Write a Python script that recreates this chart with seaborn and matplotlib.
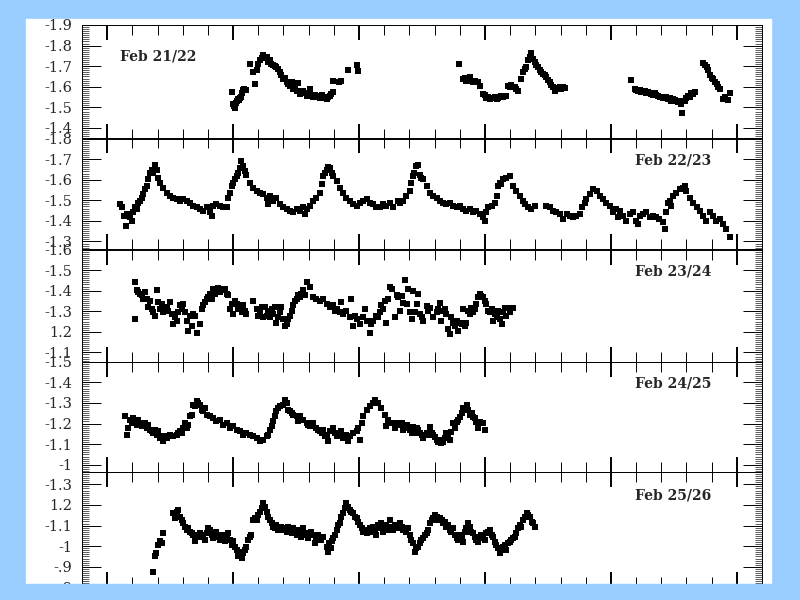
import pandas as pd
import seaborn as sns
import matplotlib.pyplot as plt
import matplotlib.ticker as ticker
from matplotlib.patches import Rectangle

# (hour, magnitude) pairs
feb21 = [(5.97,-1.575),(5.98,-1.515),(6.02,-1.505),(6.06,-1.495),(6.1,-1.52),(6.14,-1.53),(6.18,-1.54),(6.22,-1.535),(6.27,-1.545),(6.32,-1.55),(6.36,-1.57),(6.4,-1.585),(6.45,-1.59),(6.5,-1.585),(6.67,-1.71),(6.8,-1.67),(6.87,-1.615),(6.93,-1.683),(7.0,-1.712),(7.06,-1.728),(7.13,-1.74),(7.2,-1.753),(7.26,-1.745),(7.33,-1.745),(7.39,-1.72),(7.46,-1.728),(7.52,-1.71),(7.59,-1.704),(7.65,-1.7),(7.72,-1.696),(7.79,-1.685),(7.86,-1.67),(7.92,-1.655),(7.99,-1.64),(8.05,-1.645),(8.12,-1.622),(8.18,-1.615),(8.25,-1.606),(8.32,-1.622),(8.39,-1.59),(8.45,-1.6),(8.52,-1.58),(8.58,-1.62),(8.65,-1.565),(8.72,-1.575),(8.78,-1.58),(8.85,-1.57),(8.92,-1.557),(8.98,-1.565),(9.05,-1.59),(9.12,-1.56),(9.18,-1.549),(9.25,-1.56),(9.31,-1.557),(9.38,-1.55),(9.44,-1.545),(9.51,-1.56),(9.58,-1.552),(9.64,-1.548),(9.71,-1.54),(9.78,-1.55),(9.84,-1.557),(9.9,-1.565),(9.97,-1.573),(9.97,-1.627),(10.22,-1.625),(10.3,-1.627),(10.57,-1.68),(10.9,-1.704),(10.97,-1.676),
         (14.97,-1.709),(15.13,-1.639),(15.2,-1.645),(15.26,-1.63),(15.33,-1.64),(15.4,-1.647),(15.46,-1.63),(15.53,-1.622),(15.6,-1.63),(15.73,-1.622),(15.8,-1.606),(15.93,-1.565),(16.0,-1.56),(16.06,-1.545),(16.12,-1.55),(16.19,-1.54),(16.26,-1.548),(16.33,-1.545),(16.4,-1.55),(16.46,-1.54),(16.52,-1.548),(16.59,-1.549),(16.65,-1.555),(16.72,-1.552),(16.85,-1.557),(16.92,-1.606),(16.98,-1.6),(17.05,-1.61),(17.12,-1.6),(17.18,-1.598),(17.25,-1.59),(17.32,-1.58),(17.45,-1.64),(17.51,-1.67),(17.57,-1.685),(17.62,-1.696),(17.71,-1.728),(17.78,-1.745),(17.84,-1.764),(17.9,-1.737),(17.97,-1.72),(18.03,-1.704),(18.1,-1.695),(18.17,-1.68),(18.24,-1.67),(18.3,-1.663),(18.37,-1.655),(18.43,-1.647),(18.5,-1.635),(18.57,-1.622),(18.63,-1.61),(18.7,-1.598),(18.77,-1.58),(18.84,-1.59),(18.9,-1.594),(18.97,-1.6),(19.03,-1.59),(19.1,-1.598),(19.17,-1.594),
         (21.81,-1.634),(21.94,-1.59),(22.01,-1.585),(22.08,-1.58),(22.14,-1.585),(22.21,-1.573),(22.28,-1.578),(22.34,-1.58),(22.41,-1.57),(22.48,-1.573),(22.55,-1.568),(22.61,-1.565),(22.68,-1.56),(22.74,-1.569),(22.81,-1.56),(22.87,-1.557),(22.94,-1.55),(23.0,-1.552),(23.07,-1.548),(23.14,-1.545),(23.2,-1.55),(23.27,-1.54),(23.34,-1.545),(23.4,-1.532),(23.47,-1.54),(23.53,-1.536),(23.6,-1.53),(23.66,-1.524),(23.73,-1.53),(23.8,-1.516),(23.84,-1.475),(23.93,-1.532),(24.0,-1.545),(24.06,-1.557),(24.13,-1.55),(24.19,-1.569),(24.26,-1.565),(24.33,-1.576),
         (24.66,-1.715),(24.72,-1.705),(24.8,-1.696),(24.86,-1.68),(24.93,-1.655),(25.0,-1.645),(25.06,-1.639),(25.13,-1.625),(25.2,-1.614),(25.26,-1.6),(25.32,-1.59),(25.45,-1.54),(25.52,-1.55),(25.65,-1.536),(25.71,-1.568)]

feb22 = [(1.51,-1.481),(1.57,-1.465),(1.67,-1.425),(1.75,-1.377),(1.8,-1.433),(1.9,-1.417),(1.97,-1.4),(2.04,-1.441),(2.1,-1.465),(2.17,-1.457),(2.24,-1.489),(2.3,-1.497),(2.37,-1.513),(2.43,-1.529),(2.5,-1.553),(2.57,-1.569),(2.63,-1.601),(2.7,-1.633),(2.76,-1.649),(2.83,-1.633),(2.9,-1.673),(2.96,-1.649),
         (3.03,-1.61),(3.1,-1.585),(3.23,-1.561),(3.36,-1.537),(3.49,-1.521),(3.62,-1.513),(3.76,-1.505),(3.89,-1.497),(4.02,-1.505),(4.15,-1.497),(4.29,-1.489),(4.42,-1.473),(4.55,-1.465),(4.68,-1.457),(4.81,-1.449),(4.95,-1.465),(5.08,-1.441),(5.15,-1.425),(5.21,-1.473),(5.34,-1.481),(5.48,-1.473),(5.61,-1.465),(5.74,-1.465),
         (5.81,-1.513),(5.87,-1.537),(5.94,-1.569),(6.0,-1.585),(6.07,-1.601),(6.14,-1.617),(6.2,-1.633),(6.27,-1.657),(6.33,-1.689),(6.4,-1.665),(6.47,-1.641),(6.53,-1.625),(6.67,-1.585),(6.8,-1.561),(6.93,-1.545),(7.06,-1.537),(7.2,-1.529),(7.33,-1.513),(7.39,-1.481),(7.46,-1.521),(7.59,-1.497),(7.72,-1.513),(7.86,-1.481),(7.99,-1.465),(8.12,-1.457),(8.25,-1.449),(8.39,-1.441),(8.52,-1.457),(8.65,-1.449),(8.78,-1.465),(8.85,-1.433),(8.92,-1.457),(9.05,-1.473),(9.18,-1.497),(9.31,-1.513),(9.44,-1.537),(9.51,-1.577),(9.58,-1.617),(9.64,-1.633),(9.71,-1.649),(9.78,-1.662),(9.84,-1.657),
         (9.91,-1.633),(9.97,-1.617),(10.11,-1.593),(10.24,-1.561),(10.37,-1.537),(10.5,-1.513),(10.63,-1.497),(10.77,-1.481),(10.9,-1.473),(11.03,-1.489),(11.16,-1.497),(11.3,-1.505),(11.43,-1.489),(11.56,-1.481),(11.69,-1.465),(11.83,-1.465),(11.96,-1.481),(12.09,-1.473),(12.22,-1.489),(12.35,-1.465),(12.55,-1.497),
         (12.62,-1.489),(12.75,-1.497),(12.88,-1.521),(13.01,-1.545),(13.07,-1.585),(13.14,-1.617),(13.2,-1.633),(13.28,-1.665),(13.35,-1.673),(13.41,-1.625),(13.48,-1.609),(13.55,-1.601),(13.68,-1.569),(13.81,-1.537),(13.94,-1.521),(14.08,-1.513),(14.21,-1.497),(14.34,-1.489),(14.47,-1.481),(14.6,-1.489),(14.74,-1.473),(14.87,-1.465),(15.0,-1.473),(15.13,-1.457),(15.26,-1.449),(15.4,-1.457),(15.53,-1.441),(15.66,-1.449),(15.79,-1.433),(15.93,-1.417),(16.0,-1.401),(16.06,-1.441),(16.13,-1.465),(16.26,-1.473),(16.39,-1.489),(16.46,-1.521),(16.52,-1.569),(16.59,-1.585),(16.65,-1.577),(16.72,-1.601),(16.85,-1.609),(16.99,-1.617),(17.12,-1.569),(17.25,-1.545),(17.38,-1.521),(17.51,-1.497),(17.58,-1.481),(17.71,-1.465),(17.84,-1.457),(17.98,-1.473),
         (18.44,-1.473),(18.57,-1.465),(18.7,-1.449),(18.84,-1.441),(18.97,-1.433),(19.1,-1.409),(19.24,-1.433),(19.37,-1.425),(19.5,-1.417),(19.63,-1.425),(19.76,-1.433),(19.87,-1.465),(19.96,-1.489),(20.03,-1.505),(20.16,-1.529),(20.29,-1.553),(20.43,-1.545),(20.56,-1.521),(20.69,-1.505),(20.82,-1.489),(20.95,-1.473),(21.09,-1.441),(21.22,-1.457),(21.28,-1.417),(21.35,-1.449),(21.48,-1.425),(21.61,-1.401),(21.75,-1.433),(21.88,-1.441),(22.01,-1.401),(22.07,-1.385),(22.14,-1.425),(22.27,-1.433),(22.41,-1.441),(22.54,-1.417),(22.67,-1.425),(22.8,-1.417),(22.93,-1.409),(23.07,-1.393),(23.14,-1.361),(23.2,-1.441),(23.27,-1.489),(23.33,-1.497),(23.4,-1.473),(23.46,-1.521),(23.6,-1.537),(23.73,-1.553),(23.86,-1.561),(23.93,-1.569),(24.0,-1.545),(24.13,-1.513),(24.26,-1.489),(24.4,-1.465),(24.52,-1.449),(24.66,-1.425),(24.79,-1.401),(24.92,-1.441),(25.05,-1.425),(25.19,-1.401),(25.32,-1.409),(25.45,-1.385),(25.58,-1.361),(25.71,-1.321)]

feb23 = [(2.1,-1.262),(2.1,-1.44),(2.17,-1.402),(2.24,-1.394),(2.3,-1.385),(2.37,-1.377),(2.43,-1.361),(2.5,-1.394),(2.57,-1.361),(2.63,-1.32),(2.7,-1.352),(2.77,-1.311),(2.83,-1.295),(2.9,-1.278),(2.96,-1.402),(3.03,-1.344),(3.1,-1.311),(3.16,-1.336),(3.23,-1.295),(3.29,-1.311),(3.36,-1.319),(3.42,-1.303),(3.49,-1.344),(3.56,-1.286),(3.62,-1.237),(3.69,-1.27),(3.76,-1.253),(3.82,-1.295),(3.89,-1.328),(3.96,-1.311),(4.02,-1.336),(4.09,-1.295),(4.15,-1.253),(4.22,-1.204),(4.29,-1.278),(4.35,-1.229),(4.42,-1.286),(4.48,-1.278),(4.55,-1.196),(4.68,-1.237),(4.75,-1.311),(4.81,-1.328),(4.88,-1.344),(4.95,-1.361),(5.01,-1.369),(5.08,-1.385),(5.15,-1.361),(5.21,-1.41),(5.28,-1.385),(5.34,-1.402),(5.41,-1.414),(5.48,-1.394),(5.54,-1.41),(5.61,-1.402),(5.67,-1.41),(5.74,-1.385),(5.81,-1.377),(5.87,-1.311),(5.94,-1.336),(6.01,-1.286),(6.07,-1.352),(6.14,-1.336),(6.2,-1.311),(6.27,-1.319),(6.34,-1.295),(6.4,-1.328),(6.47,-1.303),(6.53,-1.286),
         (6.8,-1.352),(6.93,-1.311),(7.0,-1.278),(7.06,-1.295),(7.13,-1.319),(7.2,-1.27),(7.26,-1.319),(7.33,-1.278),(7.39,-1.303),(7.46,-1.27),(7.53,-1.311),(7.59,-1.286),(7.66,-1.319),(7.72,-1.245),(7.79,-1.27),(7.86,-1.295),(7.92,-1.319),(7.99,-1.262),(8.05,-1.229),(8.12,-1.237),(8.19,-1.262),(8.25,-1.278),(8.32,-1.303),(8.39,-1.328),(8.45,-1.352),(8.52,-1.361),(8.58,-1.377),(8.65,-1.369),(8.71,-1.385),(8.78,-1.402),(8.85,-1.377),(8.92,-1.443),(9.05,-1.418),(9.18,-1.369),(9.31,-1.361),(9.44,-1.352),(9.58,-1.361),(9.71,-1.336),(9.84,-1.319),(9.97,-1.328),(10.04,-1.303),(10.11,-1.311),(10.24,-1.295),(10.3,-1.344),(10.37,-1.286),(10.5,-1.303),(10.63,-1.27),(10.7,-1.361),(10.77,-1.229),(10.83,-1.278),(10.9,-1.262),(11.03,-1.237),(11.16,-1.27),(11.23,-1.311),(11.3,-1.253),(11.43,-1.196),(11.49,-1.237),(11.56,-1.253),(11.69,-1.278),(11.75,-1.27),(11.83,-1.295),(11.89,-1.328),(11.96,-1.311),(12.02,-1.352),(12.09,-1.245),(12.16,-1.361),(12.22,-1.418),(12.29,-1.41),(12.42,-1.27),(12.49,-1.377),
         (12.56,-1.367),(12.62,-1.302),(12.69,-1.375),(12.76,-1.342),(12.82,-1.45),(12.89,-1.334),(12.95,-1.407),(13.02,-1.294),(13.09,-1.261),(13.15,-1.399),(13.22,-1.294),(13.29,-1.334),(13.35,-1.383),(13.42,-1.286),(13.49,-1.27),(13.55,-1.253),(13.68,-1.326),(13.75,-1.302),(13.81,-1.318),(13.94,-1.27),(14.08,-1.294),(14.14,-1.31),(14.21,-1.342),(14.27,-1.253),(14.34,-1.302),(14.41,-1.31),(14.47,-1.286),(14.54,-1.213),(14.6,-1.189),(14.67,-1.27),(14.74,-1.245),(14.8,-1.229),(14.87,-1.253),(14.93,-1.205),(15.0,-1.245),(15.07,-1.237),(15.13,-1.31),(15.2,-1.229),(15.26,-1.245),(15.33,-1.302),(15.4,-1.286),(15.46,-1.318),(15.53,-1.294),(15.59,-1.31),(15.66,-1.334),(15.73,-1.367),(15.79,-1.383),(15.86,-1.375),(15.93,-1.367),(16.0,-1.35),(16.06,-1.334),(16.13,-1.302),(16.2,-1.294),(16.26,-1.31),(16.33,-1.253),(16.39,-1.286),(16.46,-1.27),(16.53,-1.302),(16.59,-1.261),(16.66,-1.237),(16.72,-1.294),(16.79,-1.318),(16.85,-1.278),(16.92,-1.318),(16.98,-1.294),(17.12,-1.318)]

feb24 = [(1.71,-1.235),(1.77,-1.146),(1.84,-1.178),(1.9,-1.219),(1.97,-1.203),(2.04,-1.227),(2.1,-1.211),(2.17,-1.195),(2.24,-1.219),(2.3,-1.203),(2.37,-1.186),(2.43,-1.195),(2.5,-1.203),(2.57,-1.178),(2.63,-1.195),(2.7,-1.17),(2.77,-1.162),(2.83,-1.154),(2.9,-1.17),(2.96,-1.146),(3.03,-1.162),(3.1,-1.13),(3.16,-1.138),(3.23,-1.113),(3.29,-1.138),(3.36,-1.13),(3.43,-1.138),(3.49,-1.146),(3.62,-1.138),(3.76,-1.146),(3.82,-1.154),(3.89,-1.162),(3.96,-1.154),(4.02,-1.178),(4.09,-1.203),(4.15,-1.178),(4.22,-1.195),(4.29,-1.235),(4.35,-1.243),(4.42,-1.292),(4.48,-1.284),(4.55,-1.308),(4.61,-1.3),(4.68,-1.292),(4.75,-1.268),(4.81,-1.259),(4.88,-1.276),(4.95,-1.243),(5.08,-1.235),(5.21,-1.227),(5.34,-1.211),(5.48,-1.219),(5.61,-1.195),(5.74,-1.203),(5.87,-1.178),(6.01,-1.186),(6.14,-1.17),(6.27,-1.162),(6.4,-1.146),(6.53,-1.154),(6.67,-1.146),(6.8,-1.138),(6.93,-1.13),(7.06,-1.113),(7.2,-1.122),(7.33,-1.138),(7.39,-1.146),(7.46,-1.17),(7.53,-1.186),(7.59,-1.211),(7.66,-1.235),(7.72,-1.259),(7.79,-1.276),(7.86,-1.284),(7.99,-1.292),(8.05,-1.316),(8.12,-1.3),(8.19,-1.268),(8.25,-1.259),(8.32,-1.251),(8.39,-1.243),(8.52,-1.235),(8.58,-1.211),(8.65,-1.235),(8.78,-1.219),(8.92,-1.203),(8.98,-1.195),(9.05,-1.186),(9.18,-1.203),(9.31,-1.178),(9.37,-1.17),(9.44,-1.162),(9.51,-1.154),(9.58,-1.17),(9.64,-1.138),(9.71,-1.146),(9.78,-1.113),(9.84,-1.162),(9.97,-1.178),(10.04,-1.154),(10.11,-1.138),(10.24,-1.146),(10.3,-1.162),(10.37,-1.13),(10.5,-1.146),(10.57,-1.113),(10.63,-1.138),(10.77,-1.154),(10.9,-1.162),(10.97,-1.178),(11.03,-1.122),(11.1,-1.203),(11.16,-1.235),(11.3,-1.268),(11.43,-1.284),(11.56,-1.3),(11.63,-1.316),(11.76,-1.3),(11.89,-1.276),(12.02,-1.243),(12.09,-1.186),(12.16,-1.219),(12.29,-1.203),(12.42,-1.178),(12.55,-1.203),
         (12.62,-1.193),(12.69,-1.201),(12.76,-1.168),(12.82,-1.177),(12.89,-1.193),(12.95,-1.177),(13.02,-1.168),(13.09,-1.152),(13.15,-1.185),(13.22,-1.152),(13.29,-1.177),(13.36,-1.168),(13.42,-1.152),(13.49,-1.144),(13.55,-1.128),(13.62,-1.144),(13.69,-1.152),(13.75,-1.144),(13.82,-1.185),(13.88,-1.152),(13.95,-1.144),(14.01,-1.136),(14.08,-1.12),(14.14,-1.112),(14.21,-1.12),(14.27,-1.104),(14.34,-1.112),(14.41,-1.128),(14.47,-1.152),(14.54,-1.128),(14.6,-1.12),(14.67,-1.16),(14.74,-1.201),(14.8,-1.177),(14.87,-1.209),(14.93,-1.217),(15.0,-1.233),(15.07,-1.25),(15.13,-1.274),(15.2,-1.266),(15.27,-1.29),(15.33,-1.266),(15.4,-1.241),(15.47,-1.25),(15.53,-1.233),(15.6,-1.225),(15.66,-1.209),(15.73,-1.177),(15.79,-1.209),(15.93,-1.204),(15.99,-1.168)]

feb25 = [(2.83,-0.877),(2.9,-0.95),(2.94,-0.966),(3.03,-1.006),(3.1,-1.023),(3.16,-1.014),(3.23,-1.066),(3.62,-1.16),(3.69,-1.136),(3.76,-1.168),(3.82,-1.176),(3.89,-1.144),(3.96,-1.128),(4.02,-1.112),(4.09,-1.095),(4.15,-1.079),(4.22,-1.087),(4.29,-1.071),(4.35,-1.063),(4.42,-1.055),(4.48,-1.023),(4.55,-1.047),(4.61,-1.055),(4.68,-1.063),(4.75,-1.055),(4.81,-1.047),(4.88,-1.031),(4.95,-1.063),(5.01,-1.087),(5.08,-1.079),(5.15,-1.055),(5.21,-1.039),(5.28,-1.063),(5.34,-1.071),(5.41,-1.047),(5.48,-1.031),(5.54,-1.055),(5.61,-1.039),(5.67,-1.023),(5.74,-1.047),(5.81,-1.063),(5.87,-1.031),(5.94,-1.006),(6.01,-1.023),(6.07,-0.998),(6.14,-0.982),(6.2,-0.95),(6.27,-0.974),(6.34,-0.942),(6.4,-0.966),(6.47,-0.982),(6.53,-0.998),(6.6,-1.031),(6.67,-1.047),(6.73,-1.055),(6.8,-1.128),(6.87,-1.136),(6.93,-1.128),(7.0,-1.152),(7.06,-1.168),(7.13,-1.184),(7.2,-1.209),(7.26,-1.192),(7.33,-1.168),(7.39,-1.144),(7.46,-1.128),(7.53,-1.112),(7.59,-1.095),(7.66,-1.087),(7.72,-1.103),(7.79,-1.079),(7.86,-1.087),(7.92,-1.095),(7.99,-1.079),(8.05,-1.087),(8.12,-1.071),(8.19,-1.095),(8.25,-1.079),(8.32,-1.063),(8.39,-1.087),(8.45,-1.071),(8.52,-1.055),(8.58,-1.079),(8.65,-1.063),(8.71,-1.047),(8.78,-1.087),(8.85,-1.063),(8.92,-1.055),(8.98,-1.039),(9.05,-1.055),(9.11,-1.071),(9.18,-1.055),(9.25,-1.014),(9.31,-1.039),(9.37,-1.055),(9.44,-1.047),(9.5,-1.031),(9.57,-1.047),
         (9.71,-0.998),(9.78,-0.974),(9.81,-1.014),(9.87,-0.99),(9.91,-1.023),(9.97,-1.039),(10.04,-1.055),(10.11,-1.079),(10.17,-1.103),(10.24,-1.112),(10.3,-1.144),(10.37,-1.16),(10.44,-1.184),(10.5,-1.209),(10.57,-1.192),(10.63,-1.176),(10.7,-1.168),(10.77,-1.16),(10.83,-1.144),(10.9,-1.136),(10.97,-1.119),(11.03,-1.103),(11.1,-1.087),(11.16,-1.071),(11.23,-1.079),(11.3,-1.063),(11.36,-1.079),(11.43,-1.087),(11.49,-1.071),(11.56,-1.095),(11.63,-1.079),(11.69,-1.055),(11.76,-1.103),(11.83,-1.087),(11.89,-1.112),(11.96,-1.071),(12.02,-1.087),(12.09,-1.103),(12.16,-1.079),(12.22,-1.128),(12.29,-1.095),(12.36,-1.079),(12.42,-1.103),(12.49,-1.087),(12.55,-1.095),
         (12.62,-1.112),(12.69,-1.095),(12.75,-1.079),(12.82,-1.087),(12.88,-1.071),(12.95,-1.087),(13.01,-1.055),(13.08,-1.031),(13.15,-1.014),(13.21,-0.974),(13.28,-0.99),(13.35,-0.998),(13.41,-1.014),(13.48,-1.031),(13.55,-1.039),(13.61,-1.055),(13.68,-1.063),(13.75,-1.079),(13.81,-1.112),(13.88,-1.128),(13.94,-1.136),(14.01,-1.152),(14.08,-1.144),(14.14,-1.128),(14.21,-1.136),(14.28,-1.128),(14.34,-1.112),(14.41,-1.119),(14.47,-1.095),(14.54,-1.103),(14.61,-1.079),(14.67,-1.071),(14.74,-1.087),(14.8,-1.055),(14.87,-1.039),(14.94,-1.031),(15.0,-1.055),(15.07,-1.047),(15.13,-1.022),(15.2,-1.071),(15.26,-1.087),(15.33,-1.112),(15.4,-1.095),(15.46,-1.071),(15.53,-1.063),(15.6,-1.047),(15.66,-1.031),(15.73,-1.022),(15.79,-1.039),(15.86,-1.055),(15.93,-1.047),(15.99,-1.031),(16.06,-1.063),(16.12,-1.071),(16.19,-1.079),(16.26,-1.055),(16.32,-1.047),(16.39,-1.022),(16.45,-1.006),(16.52,-0.99),(16.59,-0.966),(16.65,-0.982),(16.72,-0.998),(16.78,-1.006),(16.85,-0.982),(16.92,-1.014),(16.98,-1.022),(17.05,-1.031),(17.12,-1.039),(17.18,-1.047),(17.25,-1.063),(17.31,-1.087),(17.38,-1.103),(17.45,-1.095),(17.52,-1.128),(17.58,-1.144),(17.65,-1.16),(17.71,-1.152),(17.78,-1.144),(17.85,-1.119),(17.91,-1.112),(17.98,-1.095)]

nights = [feb21, feb22, feb23, feb24, feb25]
night_labels = ["Feb 21/22", "Feb 22/23", "Feb 23/24", "Feb 24/25", "Feb 25/26"]

ytick_values = [[-1.9, -1.8, -1.7, -1.6, -1.5, -1.4],
                [-1.8, -1.7, -1.6, -1.5, -1.4, -1.3],
                [-1.6, -1.5, -1.4, -1.3, -1.2, -1.1],
                [-1.5, -1.4, -1.3, -1.2, -1.1, -1.0],
                [-1.3, -1.2, -1.1, -1.0, -0.9, -0.8]]
ytick_labels = [["-1.9", "-1.8", "-1.7", "-1.6", "-1.5", "-1.4"],
                ["-1.8", "-1.7", "-1.6", "-1.5", "-1.4", "-1.3"],
                ["-1.6", "-1.5", "-1.4", "-1.3", "1.2", "-1.1"],
                ["-1.5", "-1.4", "-1.3", "-1.2", "-1.1", "-1"],
                ["-1.3", "1.2", "-1.1", "-1", "-.9", "-.8"]]

sns.set_style("white")
plt.rcParams['font.family'] = ['DejaVu Serif']

BLUE = '#99ccff'
fig = plt.figure(figsize=(8, 6), dpi=100, facecolor=BLUE)
# white sheet behind the plots
fig.patches.append(Rectangle((26/800, 1 - 584/600), 745/800, 565/600,
                             transform=fig.transFigure, color='white', zorder=-5))

# panel edges in pixels (top, bottom) and magnitude limits (bottom, top)
edges = [(25, 138.5), (138.5, 249.5), (249.5, 361.7), (361.7, 472), (472, 587.4)]
limits = [(-1.349, -1.9), (-1.261, -1.8), (-1.055, -1.6), (-0.965, -1.5), (-0.80, -1.36)]
label_pos = [(0.056, 0.724, 'left'), (0.926, 0.80, 'right'), (0.926, 0.80, 'right'),
             (0.926, 0.80, 'right'), (0.926, 0.80, 'right')]

for i, night in enumerate(nights):
    top, bot = edges[i]
    ax = fig.add_axes([82/800, 1 - bot/600, 680/800, (bot - top)/600])
    ax.set_facecolor('none')
    df = pd.DataFrame(night, columns=['hour', 'mag'])
    sns.scatterplot(data=df, x='hour', y='mag', ax=ax, color='black',
                    marker='s', s=13, linewidth=0, legend=False)
    ax.set_xlim(0, 27)
    ax.set_ylim(*limits[i])
    ax.set_xlabel('')
    ax.set_ylabel('')

    ax.xaxis.set_major_locator(ticker.FixedLocator([1, 6, 11, 16, 21, 26]))
    ax.xaxis.set_minor_locator(ticker.FixedLocator(list(range(1, 27))))
    ax.set_yticks(ytick_values[i], labels=ytick_labels[i])
    ax.yaxis.set_minor_locator(ticker.MultipleLocator(0.01))

    ax.tick_params(axis='x', which='both', direction='in', top=True, bottom=True,
                   labelbottom=False, color='black')
    ax.tick_params(axis='x', which='major', length=11, width=1.4)
    ax.tick_params(axis='x', which='minor', length=7.5, width=0.7)
    ax.tick_params(axis='y', which='both', direction='in', left=True, right=True,
                   color='black')
    ax.tick_params(axis='y', which='major', length=14, width=0.7, pad=7,
                   labelsize=10.5)
    ax.tick_params(axis='y', which='minor', length=5, width=0.45)
    for sp in ax.spines.values():
        sp.set_visible(True)
        sp.set_color('black')
        sp.set_linewidth(0.7)

    lx, ly, ha = label_pos[i]
    ax.text(lx, ly, night_labels[i], transform=ax.transAxes, ha=ha, va='center',
            fontsize=10, fontweight='bold')

# blue frame covering the bottom edge of the last panel
fig.add_artist(Rectangle((0, 0), 1, 16/600, transform=fig.transFigure,
                         color=BLUE, zorder=20))

fig.savefig('out.png', dpi=100, facecolor=BLUE)
